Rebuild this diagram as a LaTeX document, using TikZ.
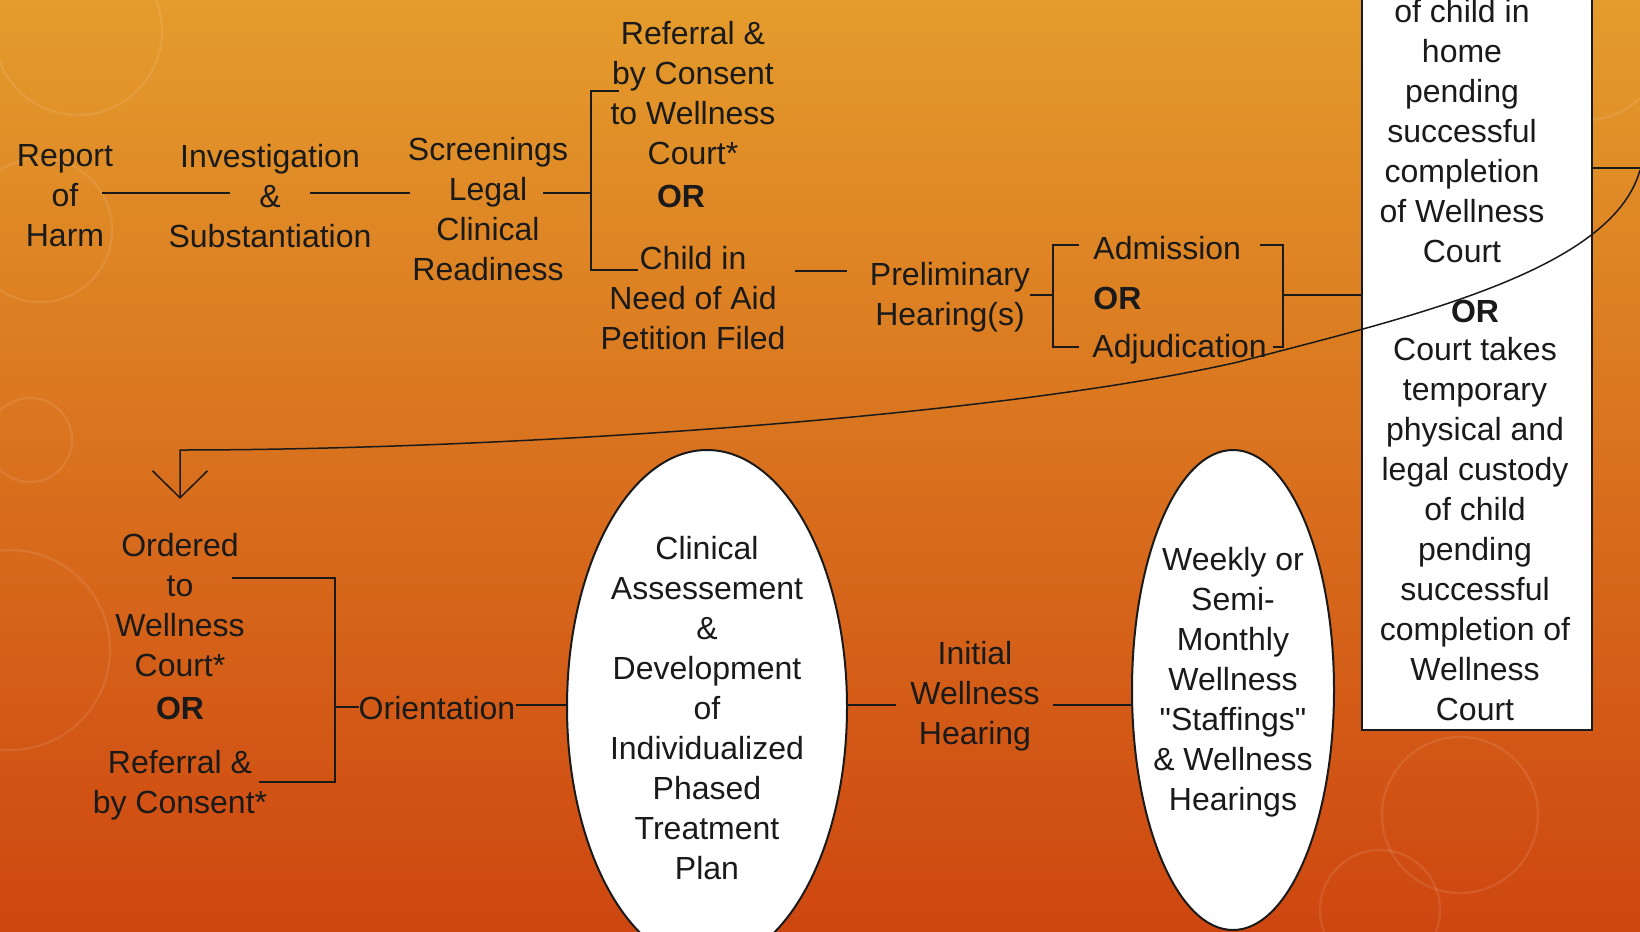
\documentclass[tikz,border=0pt]{standalone}
\usepackage{fontspec}
\setmainfont{Liberation Sans}[Ligatures=TeXOff]
\usetikzlibrary{shapes.geometric,arrows.meta}
\definecolor{bgtop}{HTML}{E49C2C}
\definecolor{bgmid}{HTML}{DC7520}
\definecolor{bgbot}{HTML}{CE4610}
\definecolor{ink}{HTML}{1A1A1A}
\begin{document}
\begin{tikzpicture}[x=0.5pt,y=-0.5pt,
  txt/.style={align=center, font=\fontsize{16}{20}\selectfont, text=ink, inner sep=0pt},
  orword/.style={txt, font=\fontsize{16}{20}\selectfont\bfseries},
  link/.style={draw=ink, line width=1pt},
  loopline/.style={draw=ink, line width=0.75pt},
  whitebox/.style={draw=ink, fill=white, line width=1pt, inner sep=0pt},
  bokeh/.style={draw=white, draw opacity=0.09, line width=1.2pt}]

% canvas and background
\useasboundingbox (0,0) rectangle (1640,932);
\clip (0,0) rectangle (1640,932);
\shade[top color=bgtop, middle color=bgmid, bottom color=bgbot] (0,0) rectangle (1640,932);
\draw[bokeh] (78,31) circle[radius=84];
\draw[bokeh] (40,230) circle[radius=72];
\draw[bokeh] (30,440) circle[radius=42];
\draw[bokeh] (10,650) circle[radius=100];
\draw[bokeh] (1460,815) circle[radius=78];
\draw[bokeh] (1380,910) circle[radius=60];
\draw[bokeh] (1585,40) circle[radius=80];

% first row
\node[txt] (report) at (65,196) {Report\\of\\Harm};
\node[txt] (invest) at (270,196) {Investigation\\\&\\Substantiation};
\node[txt] (screen) at (488,209) {Screenings\\Legal\\Clinical\\Readiness};
\node[txt] (consent) at (693,93) {Referral \&\\by Consent\\to Wellness\\Court*};
\node[orword] (orA) at (681,196) {OR};
\node[txt] (petition) at (693,298) {Child in\\Need of Aid\\Petition Filed};
\node[txt] (prelim) at (950,297) {Preliminary\\Hearing(s)};
\node[txt, anchor=west] (admit) at (1093,248) {Admission};
\node[orword, anchor=west] (orB) at (1093,298) {OR};
\node[txt, anchor=west] (adjud) at (1092,349) {Adjudication};

% custody box
\node[whitebox, minimum width=115pt, minimum height=380pt] (custody) at (1477,350) {};
\node[txt] (inhome) at (1462,131) {of child in\\home\\pending\\successful\\completion\\of Wellness\\Court};
\node[orword] (orC) at (1475,311) {OR};
\node[txt] (tempcust) at (1475,529) {Court takes\\temporary\\physical and\\legal custody\\of child\\pending\\successful\\completion of\\Wellness\\Court};

% second row
\node[txt] (ordered) at (180,605) {Ordered\\to\\Wellness\\Court*};
\node[orword] (orD) at (180,708) {OR};
\node[txt] (consentB) at (180,785) {Referral \&\\by Consent*};
\node[txt] (orient) at (437,708) {Orientation};
\node[whitebox, ellipse, minimum width=140pt, minimum height=257pt] (ellA) at (707,707) {};
\node[txt] (plan) at (707,708) {Clinical\\Assessement\\\&\\Development\\of\\Individualized\\Phased\\Treatment\\Plan};
\node[txt] (initial) at (975,696) {Initial\\Wellness\\Hearing};
\node[whitebox, ellipse, minimum width=101pt, minimum height=240pt] (ellB) at (1233,690) {};
\node[txt] (staff) at (1233,682) {Weekly or\\Semi-\\Monthly\\Wellness\\"Staffings"\\\& Wellness\\Hearings};

% connector ends and bracket corners
\coordinate (repOut) at (102,193);
\coordinate (invIn) at (230,193);
\coordinate (invOut) at (310,193);
\coordinate (scrIn) at (410,193);
\coordinate (scrOut) at (543,193);
\coordinate (brAmid) at (591,193);
\coordinate (brAtop) at (591,91);
\coordinate (brAtopEnd) at (619,91);
\coordinate (brAbot) at (591,270);
\coordinate (brAbotEnd) at (638,270);
\coordinate (petOut) at (795,271);
\coordinate (preIn) at (847,271);
\coordinate (preOut) at (1030,295);
\coordinate (brBmid) at (1053,295);
\coordinate (brBtop) at (1053,245);
\coordinate (brBtopEnd) at (1079,245);
\coordinate (brBbot) at (1053,347);
\coordinate (brBbotEnd) at (1079,347);
\coordinate (brCtopEnd) at (1260,245);
\coordinate (brCtop) at (1283,245);
\coordinate (brCbot) at (1283,347);
\coordinate (brCbotEnd) at (1273,347);
\coordinate (brCmid) at (1283,295);
\coordinate (edgeR) at (1640,168);
\coordinate (brDtopEnd) at (232,578);
\coordinate (brDtop) at (335,578);
\coordinate (brDbot) at (335,782);
\coordinate (brDbotEnd) at (259,782);
\coordinate (brDmid) at (335,707);
\coordinate (oriIn) at (359,707);
\coordinate (oriOut) at (516,705);
\coordinate (iniIn) at (896,705);
\coordinate (iniOut) at (1053,705);
\coordinate (loopStart) at (1640,170);
\coordinate (loopMid) at (1238,362);
\coordinate (loopBend) at (180,450);

% first row connectors
\draw[link] (repOut) -- (invIn);
\draw[link] (invOut) -- (scrIn);
\draw[link] (scrOut) -- (brAmid);
\draw[link] (brAtopEnd) -- (brAtop) -- (brAbot) -- (brAbotEnd);
\draw[link] (petOut) -- (preIn);
\draw[link] (preOut) -- (brBmid);
\draw[link] (brBtopEnd) -- (brBtop) -- (brBbot) -- (brBbotEnd);
\draw[link] (brCtopEnd) -- (brCtop) -- (brCbot) -- (brCbotEnd);
\draw[link] (brCmid) -- (brCmid -| custody.west);
\draw[link] (custody.east |- edgeR) -- (edgeR);

% second row connectors
\draw[link] (brDtopEnd) -- (brDtop) -- (brDbot) -- (brDbotEnd);
\draw[link] (brDmid) -- (oriIn);
\draw[link] (oriOut) -- (oriOut -| ellA.west);
\draw[link] (oriOut -| ellA.east) -- (iniIn);
\draw[link] (iniOut) -- (iniOut -| ellB.west);

% sweep back to the start of the second row
\draw[loopline, -{Straight Barb[length=13.5pt, width=27.5pt]}, shorten >=17pt]
  (loopStart) .. controls (1612,272) and (1405,318) .. (loopMid)
  .. controls (995,417.5) and (500,450) .. (loopBend) -- (ordered.north);

\end{tikzpicture}
\end{document}
